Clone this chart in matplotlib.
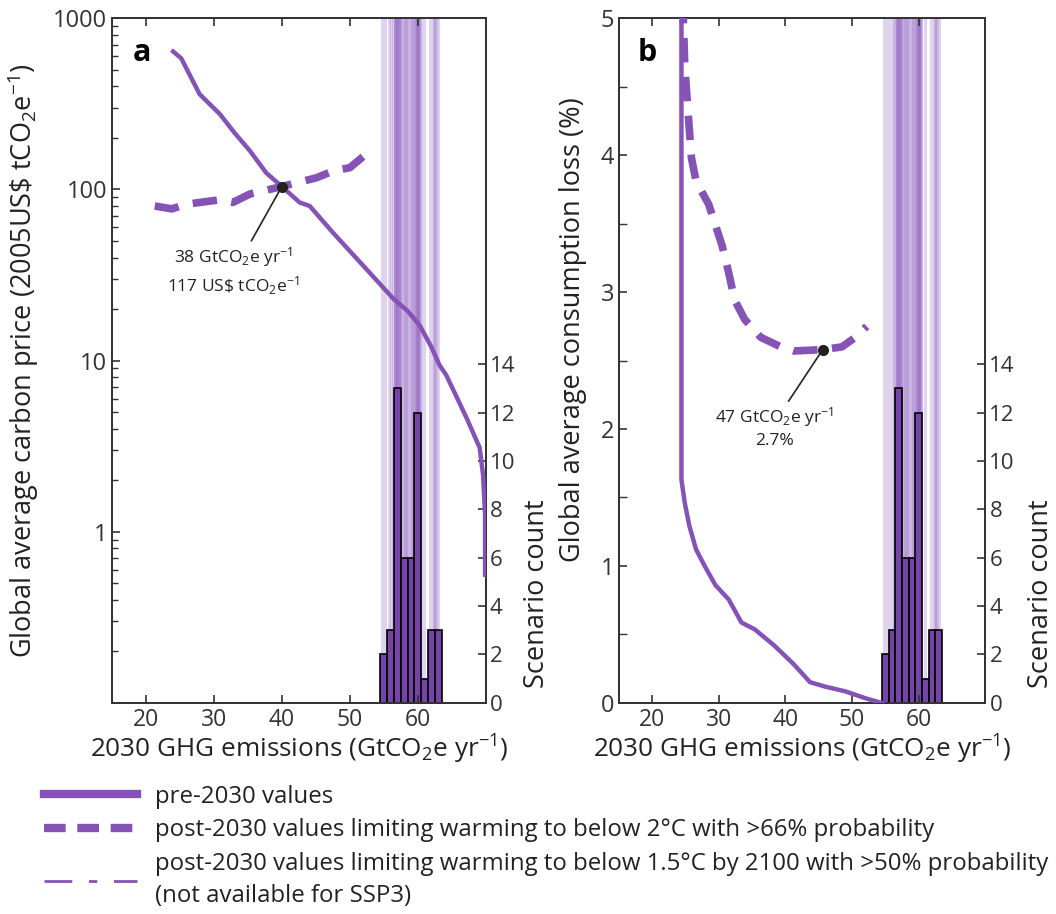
import numpy as np
import matplotlib.pyplot as plt
from matplotlib.lines import Line2D
from matplotlib.ticker import MultipleLocator, LogLocator, NullFormatter

plt.rcParams['font.family'] = ['Open Sans', 'DejaVu Sans']
plt.rcParams['mathtext.fontset'] = 'custom'
plt.rcParams['mathtext.rm'] = 'Open Sans'
plt.rcParams['mathtext.it'] = 'Open Sans:italic'
plt.rcParams['mathtext.bf'] = 'Open Sans:bold'
plt.rcParams['mathtext.default'] = 'regular'

# --- data ---
# panel a: carbon price (log scale)
price_pre_x = [24, 25.2, 27.9, 30.9, 33, 35.3, 37.7, 40, 42.6, 44.1, 47.5, 52.5,
               56.4, 58.5, 60.3, 62, 63.2, 64.2, 67.2, 69.1, 69.6, 69.9, 69.9, 69.9]
price_pre_y = [640, 583, 360, 275, 215, 168, 125, 104, 84, 80, 56, 34,
               23, 19.5, 16, 12, 9.4, 8.2, 4.6, 3.1, 2.15, 1.26, 0.74, 0.56]
price_post_x = [21.3, 23.8, 26, 30.9, 32.8, 35.3, 40, 45.1, 47.5, 50, 52]
price_post_y = [80, 77, 82, 87, 84, 94, 104, 117, 128, 134, 156]

# panel b: consumption loss (%)
loss_pre_x = [24.4, 24.4, 24.9, 25.6, 26.6, 28.0, 29.5, 31.5, 33.4, 35.4, 38.3,
              41.2, 43.7, 46.1, 49.0, 52.0, 54.4, 55.5]
loss_pre_y = [5.3, 1.63, 1.46, 1.29, 1.12, 0.99, 0.86, 0.755, 0.587, 0.537, 0.42,
              0.285, 0.151, 0.117, 0.084, 0.034, 0.0, -0.03]
loss_post_x = [24.5, 24.9, 25.4, 25.9, 26.6, 28.5, 30.5, 31.5, 32.4, 33.9, 36.3,
               39.3, 41.2, 45.6, 48.5, 50.5, 52.2]
loss_post_y = [5.3, 4.65, 4.31, 3.98, 3.81, 3.64, 3.34, 3.14, 2.94, 2.80, 2.67,
               2.60, 2.57, 2.58, 2.60, 2.67, 2.75]

# 2030 emissions of individual scenarios (histogram + vertical lines)
scenario_emissions = [54.8, 55.2,
                      55.7, 56.1, 56.3,
                      56.6, 56.7, 56.7, 56.8, 56.8, 56.9, 57.0, 57.0, 57.1, 57.2, 57.3, 57.4, 57.4,
                      57.6, 57.8, 58.0, 58.1, 58.3, 58.4,
                      58.6, 58.8, 59.0, 59.1, 59.3, 59.4,
                      59.6, 59.7, 59.8, 59.9, 59.9, 60.0, 60.0, 60.0, 60.1, 60.2, 60.3, 60.4,
                      60.9,
                      61.8, 62.3, 62.4,
                      62.6, 62.7, 63.0]

# highlighted points
point_a = (40, 104)
label_a = '38 GtCO$_2$e yr$^{-1}$\n117 US\\$ tCO$_2$e$^{-1}$'
point_b = (45.6, 2.58)
label_b = '47 GtCO$_2$e yr$^{-1}$\n2.7%'

line_col = '#8552b6'
bar_col = '#7444a6'
vline_col = '#9a70c8'
spine_col = '#333333'
text_col = '#222222'
tick_fs = 16.5
xlab_fs = 18.8
ylab_fs = 19.5

fig = plt.figure(figsize=(10.56, 9.14), dpi=100)
ax_a = fig.add_axes([0.106, 0.231, 0.354, 0.749])
ax_b = fig.add_axes([0.586, 0.231, 0.347, 0.749])


def add_counts(ax, label_x):
    ax2 = ax.twinx()
    for v in scenario_emissions:
        ax2.axvline(v, color=vline_col, alpha=0.3, lw=2.2, zorder=0)
    ax2.hist(scenario_emissions, bins=np.arange(54.5, 64.0, 1.0),
             color=bar_col, edgecolor='black', linewidth=1.2, zorder=2)
    ax2.set_ylim(0, 28.3)
    ax2.set_yticks(range(0, 15, 2))
    ax2.tick_params(direction='in', length=6, width=1.2, labelsize=tick_fs - 0.5,
                    colors=spine_col, pad=3)
    ax2.set_ylabel('Scenario count', fontsize=ylab_fs, color=text_col)
    ax2.yaxis.set_label_coords(label_x, 0.16)
    for s in ax2.spines.values():
        s.set_color(spine_col)
        s.set_linewidth(1.3)
    ax.set_zorder(ax2.get_zorder() + 1)
    ax.patch.set_visible(False)
    return ax2


def style_x(ax):
    ax.set_xlim(15, 70)
    ax.set_xticks([20, 30, 40, 50, 60])
    ax.tick_params(direction='in', top=True, right=False, length=6, width=1.2,
                   labelsize=tick_fs, colors=spine_col)
    ax.tick_params(which='minor', direction='in', right=False, length=4, width=1.0,
                   colors=spine_col)
    ax.set_xlabel('2030 GHG emissions (GtCO$_2$e yr$^{-1}$)', fontsize=xlab_fs,
                  color=text_col, labelpad=1)
    for s in ax.spines.values():
        s.set_color(spine_col)
        s.set_linewidth(1.3)


# panel a
add_counts(ax_a, 1.1)
ax_a.plot(price_pre_x, price_pre_y, color=line_col, lw=3.2, zorder=3)
ax_a.plot(price_post_x, price_post_y, color=line_col, lw=5.5, dashes=(3.2, 1.9), zorder=3)
ax_a.set_yscale('log')
ax_a.set_ylim(0.1, 1000)
ax_a.set_yticks([1, 10, 100, 1000])
ax_a.set_yticklabels(['1', '10', '100', '1000'])
ax_a.yaxis.set_minor_locator(LogLocator(base=10, subs=np.arange(2, 10)))
ax_a.yaxis.set_minor_formatter(NullFormatter())
style_x(ax_a)
ax_a.tick_params(axis='y', labelsize=tick_fs + 0.5)
ax_a.set_ylabel('Global average carbon price (2005US\\$ tCO$_2$e$^{-1}$)',
                fontsize=ylab_fs, color=text_col)
ax_a.yaxis.set_label_coords(-0.19, 0.5)
ax_a.plot(*point_a, 'o', color=text_col, ms=7, zorder=5)
ax_a.annotate(label_a, xy=point_a, xytext=(-35, -42), textcoords='offset points',
              ha='center', va='top', fontsize=12.5, color=text_col, linespacing=1.3,
              arrowprops=dict(arrowstyle='-', color=text_col, lw=1.2,
                              shrinkA=1, shrinkB=0, relpos=(0.62, 1.0)))
ax_a.text(0.055, 0.95, 'a', transform=ax_a.transAxes, fontsize=22,
          fontweight='bold', va='center', ha='left')

# panel b
add_counts(ax_b, 1.115)
ax_b.plot(loss_pre_x, loss_pre_y, color=line_col, lw=3.2, zorder=3)
ax_b.plot(loss_post_x, loss_post_y, color=line_col, lw=5.5, dashes=(3.2, 1.9), zorder=3)
ax_b.set_ylim(0, 5)
ax_b.set_yticks(range(0, 6))
ax_b.yaxis.set_minor_locator(MultipleLocator(0.5))
style_x(ax_b)
ax_b.tick_params(which='minor', length=6)
ax_b.tick_params(axis='y', labelsize=tick_fs + 0.5)
ax_b.set_ylabel('Global average consumption loss (%)', fontsize=ylab_fs, color=text_col)
ax_b.yaxis.set_label_coords(-0.087, 0.545)
ax_b.plot(*point_b, 'o', color=text_col, ms=7, zorder=5)
ax_b.annotate(label_b, xy=point_b, xytext=(-35, -40), textcoords='offset points',
              ha='center', va='top', fontsize=12.5, color=text_col, linespacing=1.3,
              arrowprops=dict(arrowstyle='-', color=text_col, lw=1.2,
                              shrinkA=1, shrinkB=0, relpos=(0.6, 1.0)))
ax_b.text(0.05, 0.95, 'b', transform=ax_b.transAxes, fontsize=22,
          fontweight='bold', va='center', ha='left')

# legend
handles = [
    Line2D([], [], color=line_col, lw=6),
    Line2D([], [], color=line_col, lw=6, dashes=(2.6, 1.4)),
    Line2D([], [], color=line_col, lw=2, dashes=(10, 6, 3, 6)),
]
labels = [
    'pre-2030 values',
    'post-2030 values limiting warming to below 2°C with >66% probability',
    'post-2030 values limiting warming to below 1.5°C by 2100 with >50% probability\n(not available for SSP3)',
]
leg = fig.legend(handles, labels, loc='upper left', bbox_to_anchor=(0.033, 0.152),
                 frameon=False, fontsize=17.3, handlelength=3.85, handletextpad=0.75,
                 labelspacing=0.4, borderaxespad=0, labelcolor=text_col)
for t in leg.get_texts():
    t.set_linespacing(1.45)

fig.savefig('out.png', dpi=100)
